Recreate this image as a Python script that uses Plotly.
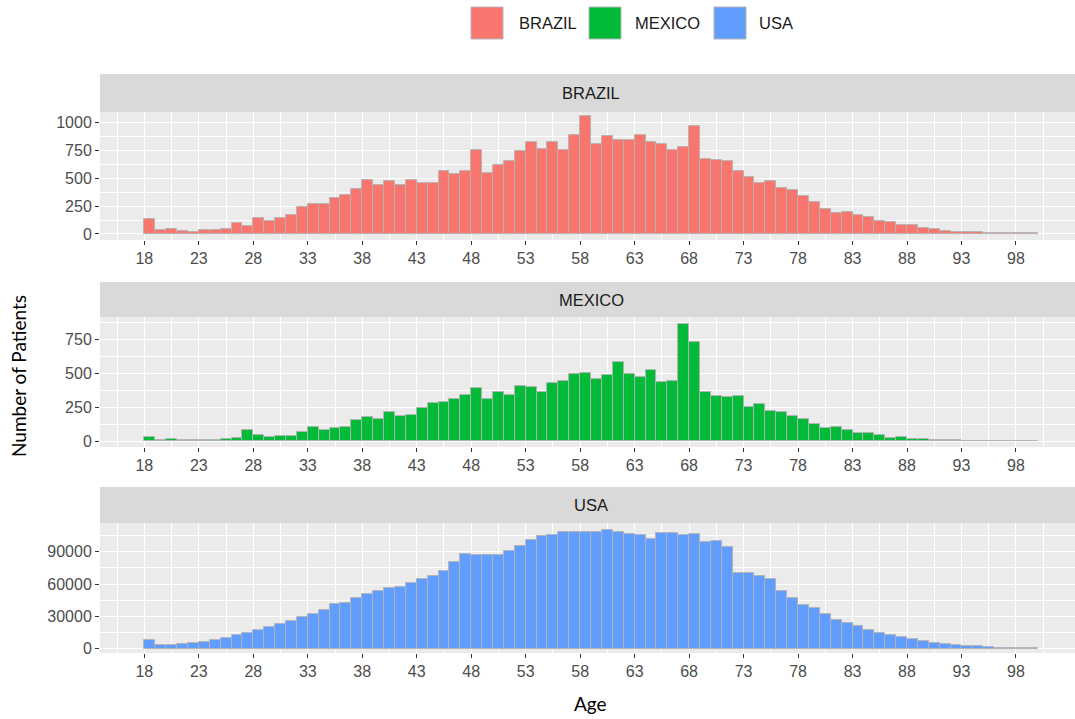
import plotly.graph_objects as go

ages = list(range(18, 100))
countries = ["BRAZIL", "MEXICO", "USA"]
colors = ["#F8766D", "#00BA38", "#619CFF"]

brazil = [134, 36, 45, 27, 18, 36, 36, 45, 98, 71, 140, 116, 143, 170, 244, 268, 274, 324, 354, 408,
          488, 437, 473, 443, 485, 461, 461, 568, 536, 565, 759, 545, 616, 658, 744, 824, 768, 824, 759, 893,
          1057, 812, 878, 848, 848, 893, 824, 809, 759, 783, 973, 676, 661, 652, 565, 515, 455, 476, 411, 393,
          342, 289, 223, 193, 202, 170, 149, 116, 110, 80, 80, 57, 45, 27, 21, 18, 15, 9, 6, 6, 5, 5]
mexico = [33, 5, 15, 5, 10, 8, 10, 12, 22, 83, 48, 33, 38, 38, 70, 105, 85, 95, 105, 158,
          175, 163, 213, 188, 195, 245, 280, 290, 310, 343, 388, 308, 365, 343, 405, 398, 363, 425, 445, 495,
          505, 458, 485, 580, 493, 475, 523, 438, 443, 863, 733, 365, 333, 328, 330, 250, 273, 220, 215, 183,
          163, 125, 98, 100, 80, 63, 60, 45, 25, 33, 13, 15, 8, 5, 4, 3, 3, 3, 2, 2, 2, 2]
usa = [8125, 3750, 3750, 4375, 5300, 6560, 8125, 10000, 12500, 14700, 16900, 19700, 22500, 25600, 29700,
       32500, 35600, 41900, 42800, 47200, 50600, 53100, 56600, 57500, 60600, 64700, 67500, 72200, 80300,
       87800, 86900, 86900, 87200, 90600, 95000, 101250, 104400, 105600, 108400, 108400, 108400, 108400,
       110300, 108750, 106900, 105300, 101900, 107500, 107500, 105900, 106900, 99100, 100000, 94100, 70600,
       70000, 67800, 65000, 53400, 46900, 40900, 37800, 32500, 26900, 23750, 20600, 16900, 14400, 12200,
       10600, 9060, 6900, 5000, 4060, 3125, 2500, 2200, 1250, 940, 940, 940, 300]
series = [brazil, mexico, usa]

y_ticks = [[0, 250, 500, 750, 1000], [0, 250, 500, 750], [0, 30000, 60000, 90000]]
y_ranges = [[-54, 1097], [-44, 915], [-4100, 116700]]
y_minor = [125, 125, 15000]
x_ticks = list(range(18, 99, 5))

W, H = 1075, 719
L = 100
def px_x(p):
    return (p - L) / (W - L)
def px_y(p):
    return 1 - p / H

# panel pixel bounds (plot top, plot bottom, strip top)
panels = [(112, 240, 74), (317, 447, 282), (523, 653, 487)]

fig = go.Figure()
x_centers = [a + 0.5 for a in ages]
for i, (name, col, vals) in enumerate(zip(countries, colors, series)):
    ax = "" if i == 0 else str(i + 1)
    fig.add_trace(go.Bar(
        x=x_centers, y=vals, width=1.0, name=name,
        marker=dict(color=col, line=dict(color="#b3b3b3", width=0.9)),
        xaxis="x" + ax, yaxis="y" + ax, showlegend=False,
        hovertemplate="Age %{x}<br>%{y}<extra>" + name + "</extra>",
    ))

tick_font = dict(family="Liberation Sans, Arial, sans-serif", size=16, color="#4D4D4D")
layout = dict(
    width=W, height=H,
    margin=dict(l=L, r=0, t=0, b=0),
    paper_bgcolor="white", plot_bgcolor="#EBEBEB",
    bargap=0, showlegend=False,
)
for i in range(3):
    ax = "" if i == 0 else str(i + 1)
    top, bot, stop = panels[i]
    layout["xaxis" + ax] = dict(
        domain=[0, 1], anchor="y" + ax, range=[13.93, 103.42],
        tickmode="array", tickvals=x_ticks, ticktext=[str(t) for t in x_ticks],
        ticks="outside", ticklen=4, tickwidth=1.3, tickcolor="#333333",
        showgrid=True, gridcolor="white", gridwidth=1.4, zeroline=False,
        minor=dict(tick0=15.5, dtick=5, showgrid=True, gridcolor="white", gridwidth=0.6, ticks=""),
        tickfont=tick_font, showline=False, automargin=False, fixedrange=True,
    )
    layout["yaxis" + ax] = dict(
        domain=[px_y(bot), px_y(top)], anchor="x" + ax, range=y_ranges[i],
        tickmode="array", tickvals=y_ticks[i], ticktext=[str(t) for t in y_ticks[i]],
        ticks="outside", ticklen=4, tickwidth=1.3, tickcolor="#333333",
        showgrid=True, gridcolor="white", gridwidth=1.4, zeroline=False,
        minor=dict(tick0=y_minor[i], dtick=2 * y_minor[i], showgrid=True, gridcolor="white",
                   gridwidth=0.6, ticks=""),
        tickfont=tick_font, showline=False, automargin=False, fixedrange=True,
    )
fig.update_layout(**layout)

shapes = []
annotations = []
for i, name in enumerate(countries):
    top, bot, stop = panels[i]
    shapes.append(dict(type="rect", xref="paper", yref="paper", x0=0, x1=1,
                       y0=px_y(top), y1=px_y(stop), fillcolor="#D9D9D9", line=dict(width=0),
                       layer="below"))
    annotations.append(dict(text=name, xref="paper", yref="paper", x=px_x(591),
                            y=px_y((top + stop) / 2), showarrow=False,
                            font=dict(family="Liberation Sans, Arial, sans-serif", size=16.5, color="#1A1A1A"),
                            xanchor="center", yanchor="middle"))

# legend (top)
legend_boxes = [(471, 517), (589, 633), (714, 757)]
for (bx, tx), name, col in zip(legend_boxes, countries, colors):
    shapes.append(dict(type="rect", xref="paper", yref="paper", x0=px_x(bx), x1=px_x(bx + 32),
                       y0=px_y(39), y1=px_y(7), fillcolor=col, line=dict(color="#b5b5b5", width=1)))
    annotations.append(dict(text=name, xref="paper", yref="paper", x=px_x(tx), y=px_y(23),
                            showarrow=False, xanchor="left", yanchor="middle",
                            font=dict(family="Liberation Sans, Arial, sans-serif", size=16.5, color="#1A1A1A")))

annotations.append(dict(text="Number of Patients", xref="paper", yref="paper", x=px_x(18), y=px_y(376),
                        showarrow=False, textangle=-90, xanchor="center", yanchor="middle",
                        font=dict(family="Lato, Open Sans, sans-serif", size=19, color="#000000")))
annotations.append(dict(text="Age", xref="paper", yref="paper", x=px_x(590), y=px_y(703),
                        showarrow=False, xanchor="center", yanchor="middle",
                        font=dict(family="Lato, Open Sans, sans-serif", size=19, color="#000000")))

fig.update_layout(shapes=shapes, annotations=annotations)
fig.write_html("out.html", config={"displayModeBar": False},
               post_script="document.body.style.margin='0';document.body.style.padding='0';")
